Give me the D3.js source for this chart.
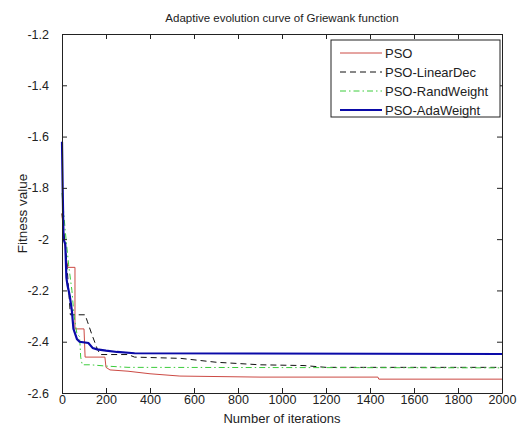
<!DOCTYPE html>
<html>
<head>
<meta charset="utf-8">
<script src="https://cdn.jsdelivr.net/npm/d3@7"></script>
<style>
  body { margin: 0; background: #fff; }
  text { font-family: "Liberation Sans", Arial, sans-serif; fill: #222; }
</style>
</head>
<body>
<svg id="chart"></svg>
<script>
const width = 520, height = 430;
const margin = { top: 34, right: 18, bottom: 37, left: 62 };

// iterations / fitness values for each curve
const psoIter = [0, 4, 8, 14, 20, 27, 59, 59, 100, 105, 195, 200, 218, 300, 400, 536, 900, 1436, 1440, 2000];
const psoVal  = [-1.9, -1.95, -1.98, -2.03, -2.08, -2.11, -2.11, -2.35, -2.35, -2.46, -2.46, -2.50, -2.51, -2.515, -2.525, -2.534, -2.538, -2.538, -2.546, -2.546];

const linIter = [0, 8, 16, 24, 32, 38, 105, 115, 135, 159, 173, 300, 330, 540, 700, 900, 1100, 1200, 2000];
const linVal  = [-1.9, -1.97, -2.03, -2.12, -2.22, -2.295, -2.295, -2.32, -2.37, -2.425, -2.45, -2.45, -2.46, -2.465, -2.48, -2.49, -2.493, -2.50, -2.50];

const randIter = [0, 8, 15, 30, 45, 55, 68, 80, 85, 92, 130, 200, 300, 2000];
const randVal  = [-1.82, -1.9, -1.97, -2.1, -2.2, -2.3, -2.37, -2.38, -2.46, -2.49, -2.49, -2.495, -2.50, -2.502];

const adaIter = [0, 3, 7, 15, 20, 25, 35, 45, 52, 68, 80, 120, 140, 160, 200, 250, 330, 2000];
const adaVal  = [-1.62, -1.8, -2.0, -2.02, -2.15, -2.18, -2.22, -2.28, -2.35, -2.39, -2.40, -2.405, -2.425, -2.43, -2.435, -2.44, -2.445, -2.448];

const seriesNames = ["PSO", "PSO-LinearDec", "PSO-RandWeight", "PSO-AdaWeight"];
const xTicks = [0, 200, 400, 600, 800, 1000, 1200, 1400, 1600, 1800, 2000];
const yTicks = [-1.2, -1.4, -1.6, -1.8, -2, -2.2, -2.4, -2.6];

const series = [
  { name: seriesNames[0], iter: psoIter,  val: psoVal,  color: "#cc4a44", width: 1,   dash: null },
  { name: seriesNames[1], iter: linIter,  val: linVal,  color: "#111",    width: 1,   dash: "6,4" },
  { name: seriesNames[2], iter: randIter, val: randVal, color: "#3ccc3c", width: 1,   dash: "6,3,1.5,3" },
  { name: seriesNames[3], iter: adaIter,  val: adaVal,  color: "#0a0aa8", width: 2.2, dash: null }
];

const svg = d3.select("#chart")
  .attr("width", width)
  .attr("height", height);

const x = d3.scaleLinear()
  .domain([0, 2000])
  .range([margin.left, width - margin.right]);

const y = d3.scaleLinear()
  .domain([-2.6, -1.2])
  .range([height - margin.bottom, margin.top]);

const line = d3.line()
  .x(d => x(d[0]))
  .y(d => y(d[1]));

// curves
svg.append("g")
  .attr("class", "curves")
  .selectAll("path")
  .data(series)
  .join("path")
    .attr("fill", "none")
    .attr("stroke", d => d.color)
    .attr("stroke-width", d => d.width)
    .attr("stroke-dasharray", d => d.dash)
    .attr("d", d => line(d.iter.map((it, i) => [it, d.val[i]])));

// axes, ticks pointing inward, box all round (plain hyphen minus, no thousands comma)
const fmt = d => String(d);
svg.append("g")
  .attr("transform", `translate(0,${height - margin.bottom})`)
  .call(d3.axisBottom(x).tickValues(xTicks).tickSizeInner(-5).tickSizeOuter(0).tickPadding(2).tickFormat(fmt))
  .call(g => g.selectAll("text").attr("font-size", 12.5));

svg.append("g")
  .attr("transform", `translate(0,${margin.top})`)
  .call(d3.axisTop(x).tickValues(xTicks).tickSizeInner(-5).tickSizeOuter(0).tickFormat(""));

svg.append("g")
  .attr("transform", `translate(${margin.left},0)`)
  .call(d3.axisLeft(y).tickValues(yTicks).tickSizeInner(-5).tickSizeOuter(0).tickPadding(13).tickFormat(fmt))
  .call(g => g.selectAll("text").attr("font-size", 12.5));

svg.append("g")
  .attr("transform", `translate(${width - margin.right},0)`)
  .call(d3.axisRight(y).tickValues(yTicks).tickSizeInner(-5).tickSizeOuter(0).tickFormat(""));

svg.selectAll(".domain").attr("stroke", "#222");
svg.selectAll(".tick line").attr("stroke", "#222");

// title and axis labels
svg.append("text")
  .attr("x", (margin.left + width - margin.right) / 2)
  .attr("y", 22)
  .attr("text-anchor", "middle")
  .attr("font-size", 11.5)
  .text("Adaptive evolution curve of Griewank function");

svg.append("text")
  .attr("x", (margin.left + width - margin.right) / 2)
  .attr("y", 423)
  .attr("text-anchor", "middle")
  .attr("font-size", 13)
  .text("Number of iterations");

svg.append("text")
  .attr("transform", `translate(27,${(margin.top + height - margin.bottom) / 2}) rotate(-90)`)
  .attr("text-anchor", "middle")
  .attr("font-size", 13.5)
  .text("Fitness value");

// legend
const legend = svg.append("g").attr("transform", "translate(331,40)");
legend.append("rect")
  .attr("width", 169)
  .attr("height", 77)
  .attr("fill", "#fff")
  .attr("stroke", "#222");

const item = legend.selectAll(".item")
  .data(series)
  .join("g")
    .attr("class", "item")
    .attr("transform", (d, i) => `translate(0,${13 + i * 19})`);

item.append("line")
  .attr("x1", 9).attr("x2", 51)
  .attr("stroke", d => d.color)
  .attr("stroke-width", d => d.width)
  .attr("stroke-dasharray", d => d.dash);

item.append("text")
  .attr("x", 54)
  .attr("dy", "0.35em")
  .attr("font-size", 13)
  .text(d => d.name);
</script>
</body>
</html>
